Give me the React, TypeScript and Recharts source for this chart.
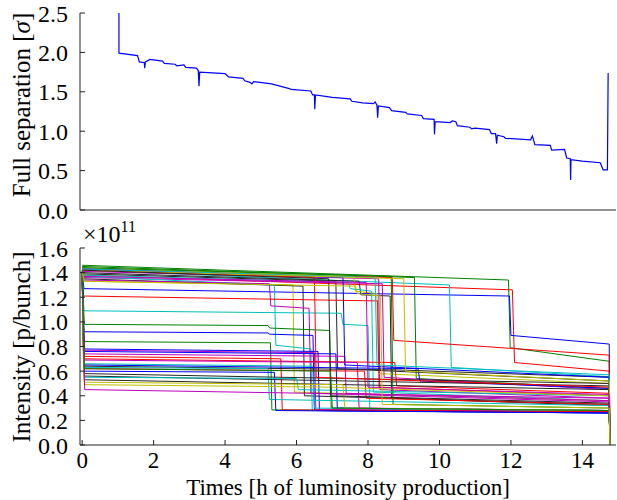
import { LineChart, Line, XAxis, YAxis, Label } from "recharts";

const FONT = '"Liberation Serif", "Times New Roman", serif';
const INK = "#222";

const B = "#0000ff";
const G = "#008000";
const R = "#ff0000";
const C = "#00bfbf";
const M = "#bf00bf";
const Y = "#bfbf00";
const K = "#262626";

const timeTicks = [0, 2, 4, 6, 8, 10, 12, 14];
const sepTicks = [0, 0.5, 1, 1.5, 2, 2.5];
const intensityTicks = [0, 0.2, 0.4, 0.6, 0.8, 1.0, 1.2, 1.4, 1.6];
const timeDomain: [number, number] = [-0.06, 14.94];

// full separation [sigma] vs time [h]
const separation: [number, number][] = [
  [1.03, 2.6], [1.03, 1.99], [1.55, 1.96], [1.6, 1.88], [1.74, 1.87], [1.75, 1.8],
  [1.77, 1.88], [1.9, 1.91], [2.25, 1.89], [2.3, 1.86], [2.6, 1.85], [2.65, 1.83],
  [2.85, 1.84], [2.9, 1.81], [3.2, 1.8], [3.25, 1.77], [3.27, 1.57], [3.29, 1.75],
  [4.0, 1.73], [4.1, 1.69], [4.5, 1.67], [4.55, 1.64], [4.7, 1.62], [4.75, 1.6],
  [4.8, 1.63], [5.3, 1.6], [5.8, 1.54], [5.85, 1.53], [6.4, 1.51], [6.45, 1.46],
  [6.5, 1.46], [6.51, 1.28], [6.53, 1.46], [7.0, 1.43], [7.5, 1.41], [7.55, 1.38],
  [7.85, 1.36], [8.15, 1.35], [8.2, 1.37], [8.25, 1.33], [8.27, 1.17], [8.29, 1.32],
  [8.6, 1.3], [8.66, 1.26], [9.05, 1.24], [9.1, 1.22], [9.5, 1.2], [9.55, 1.16],
  [9.85, 1.15], [9.86, 0.96], [9.88, 1.12], [10.3, 1.11], [10.36, 1.13], [10.46, 1.12],
  [10.5, 1.07], [10.85, 1.05], [10.9, 1.03], [11.0, 1.04], [11.4, 1.02], [11.45, 0.97],
  [11.57, 0.97], [11.6, 0.84], [11.62, 0.95], [11.8, 0.93], [11.85, 0.91], [12.55, 0.89],
  [12.6, 0.94], [12.67, 0.83], [13.1, 0.82], [13.14, 0.76], [13.5, 0.77], [13.56, 0.66],
  [13.66, 0.65], [13.67, 0.38], [13.68, 0.64], [14.0, 0.62], [14.5, 0.6], [14.58, 0.51],
  [14.7, 0.51], [14.72, 1.74],
];

// beams dumped at the end of the fill
const dumpTime = 14.77;

const bunchColors = [
  G, R, B, C, G, R, K, M, Y, K,
  C, M, Y, K, C, M, R, C, G, B,
  G, B, M, B, M, R, R, M, C, B,
  K, C, B, R, K, K, C, K, Y, Y,
  M, G, B, R, C, Y, K, M, G, Y,
];

// intensity [1e11 p/bunch] breakpoints (t [h], value)
const bunchTracks: [number, number][][] = [
  [[0, 1.46], [11.93, 1.34], [11.98, 0.79], [14.75, 0.68]],
  [[0, 1.38], [12.04, 1.26], [12.1, 0.67], [14.75, 0.6]],
  [[0, 1.41], [0.05, 1.27], [6, 1.24], [11.96, 1.21], [12.0, 0.89], [14.75, 0.82]],
  [[0, 1.42], [10.28, 1.3], [10.33, 0.63], [14.75, 0.555]],
  [[0, 1.45], [9.3, 1.36], [9.35, 0.54], [14.75, 0.46]],
  [[0, 1.43], [8.68, 1.36], [8.72, 0.85], [14.75, 0.73]],
  [[0, 1.4], [7.75, 1.33], [7.8, 1.22], [8.62, 1.21], [8.66, 0.38], [14.75, 0.32]],
  [[0, 1.41], [8.3, 1.35], [8.33, 0.45], [14.75, 0.38]],
  [[0, 1.44], [7.6, 1.37], [7.65, 1.25], [8.25, 1.23], [8.3, 0.58], [14.75, 0.5]],
  [[0, 1.39], [7.1, 1.33], [7.15, 0.62], [14.75, 0.52]],
  [[0, 1.38], [7.45, 1.32], [7.5, 1.27], [8.1, 1.25], [8.15, 0.43], [14.75, 0.36]],
  [[0, 1.36], [8.4, 1.31], [8.45, 0.55], [14.75, 0.45]],
  [[0, 1.33], [5.9, 1.3], [5.94, 0.43], [14.75, 0.36]],
  [[0, 1.35], [6.18, 1.29], [6.22, 0.4], [14.75, 0.33]],
  [[0, 1.37], [5.38, 1.3], [5.42, 0.81], [6.4, 0.78], [6.44, 0.28], [14.75, 0.26]],
  [[0, 1.34], [5.24, 1.31], [5.28, 1.13], [6.35, 1.11], [6.4, 0.42], [14.75, 0.35]],
  [[0, 1.38], [0.04, 1.21], [8.27, 1.17], [8.31, 0.47], [14.75, 0.4]],
  [[0, 1.4], [0.05, 1.09], [7.25, 1.07], [7.3, 0.98], [8.0, 0.97], [8.05, 0.29], [14.75, 0.27]],
  [[0, 1.42], [0.06, 0.98], [5.2, 0.97], [5.25, 0.95], [6.93, 0.93], [6.97, 0.3], [14.75, 0.28]],
  [[0, 1.4], [0.05, 0.92], [5.2, 0.91], [5.25, 0.9], [6.46, 0.89], [6.5, 0.28], [14.75, 0.26]],
  [[0, 1.41], [0.06, 0.84], [5.27, 0.83], [5.31, 0.285], [14.75, 0.27]],
  [[0, 1.4], [0.05, 0.78], [6.6, 0.76], [6.64, 0.28], [14.75, 0.26]],
  [[0, 1.4], [0.06, 0.77], [6.5, 0.75], [6.54, 0.29], [14.75, 0.27]],
  [[0, 1.39], [0.05, 0.76], [7.1, 0.74], [7.14, 0.3], [14.75, 0.28]],
  [[0, 1.39], [0.06, 0.74], [7.35, 0.72], [7.39, 0.42], [14.75, 0.36]],
  [[0, 1.38], [0.04, 0.72], [5.56, 0.7], [5.6, 0.285], [14.75, 0.27]],
  [[0, 1.38], [0.04, 0.7], [8.75, 0.67], [8.8, 0.48], [14.75, 0.42]],
  [[0, 1.39], [0.06, 0.69], [7.7, 0.67], [7.75, 0.3], [14.75, 0.28]],
  [[0, 1.4], [0.05, 0.66], [6.45, 0.64], [6.5, 0.3], [14.75, 0.28]],
  [[0, 1.39], [0.05, 0.65], [9.4, 0.62], [9.45, 0.52], [14.75, 0.46]],
  [[0, 1.38], [0.06, 0.64], [8.8, 0.61], [14.75, 0.55]],
  [[0, 1.4], [0.05, 0.63], [5.2, 0.62], [5.24, 0.37], [14.75, 0.32]],
  [[0, 1.39], [0.05, 0.6], [5.38, 0.59], [5.42, 0.28], [14.75, 0.26]],
  [[0, 1.4], [0.04, 0.62], [7.9, 0.6], [7.95, 0.38], [14.75, 0.33]],
  [[0, 1.39], [0.06, 0.58], [14.75, 0.5]],
  [[0, 1.4], [0.06, 0.56], [14.75, 0.48]],
  [[0, 1.38], [0.06, 0.55], [6.0, 0.54], [6.05, 0.45], [14.75, 0.4]],
  [[0, 1.4], [0.06, 0.53], [14.75, 0.45]],
  [[0, 1.38], [0.06, 0.51], [7.3, 0.49], [7.35, 0.3], [14.75, 0.28]],
  [[0, 1.39], [0.06, 0.49], [6.9, 0.47], [14.75, 0.4]],
  [[0, 1.38], [0.07, 0.45], [14.75, 0.38]],
  [[0, 1.44], [8.65, 1.37], [8.7, 0.33], [14.75, 0.3]],
  [[0, 1.43], [7.3, 1.36], [7.35, 0.65], [14.75, 0.55]],
  [[0, 1.42], [6.5, 1.36], [6.55, 0.55], [14.75, 0.47]],
  [[0, 1.43], [8.2, 1.36], [8.25, 0.65], [14.75, 0.57]],
  [[0, 1.42], [9.0, 1.35], [9.05, 0.6], [14.75, 0.52]],
  [[0, 1.42], [6.9, 1.35], [6.95, 0.4], [14.75, 0.34]],
  [[0, 1.37], [7.95, 1.32], [8.0, 0.47], [14.75, 0.41]],
  [[0, 1.39], [0.06, 0.62], [6.95, 0.6], [7.0, 0.3], [14.75, 0.28]],
  [[0, 1.4], [0.06, 1.33], [7.65, 1.29], [7.7, 1.23], [8.35, 1.21], [8.4, 0.33], [14.75, 0.3]],
];

const sepData = separation.map(([t, v]) => ({ t, v }));
const bunchData = bunchTracks.map((track) =>
  [...track, [dumpTime, 0] as [number, number]].map(([t, v]) => ({ t, v }))
);

const yTickStyle = { fontSize: 24, fontFamily: FONT, fill: "#000" };
const xTickStyle = { fontSize: 23, fontFamily: FONT, fill: "#000" };
const frame = { stroke: INK, strokeWidth: 1 };

const textStyle: React.CSSProperties = {
  position: "absolute",
  fontFamily: FONT,
  fontSize: 25,
  lineHeight: 1,
  whiteSpace: "nowrap",
  color: "#000",
};

const App = () => {
  return (
    <div style={{ position: "absolute", left: 0, top: 0, width: 617, height: 500, background: "#fff" }}>
      <div style={{ position: "absolute", left: 0, top: 0 }}>
        <LineChart width={617} height={232} margin={{ top: 13, right: 1, bottom: 0, left: 10 }}>
          <XAxis
            xAxisId="b"
            dataKey="t"
            type="number"
            domain={timeDomain}
            ticks={timeTicks}
            allowDataOverflow
            height={22}
            tick={false}
            tickSize={-5}
            axisLine={frame}
            tickLine={frame}
          />
          <XAxis
            xAxisId="top"
            orientation="top"
            type="number"
            domain={timeDomain}
            ticks={timeTicks}
            allowDataOverflow
            height={0}
            tick={false}
            tickSize={-5}
            axisLine={frame}
            tickLine={frame}
          />
          <YAxis
            yAxisId="l"
            type="number"
            domain={[0, 2.5]}
            ticks={sepTicks}
            allowDataOverflow
            width={70}
            interval={0}
            tickSize={-5}
            tickMargin={17}
            tickFormatter={(v: number) => v.toFixed(1)}
            tick={yTickStyle}
            axisLine={frame}
            tickLine={frame}
          />
          <YAxis
            yAxisId="r"
            orientation="right"
            type="number"
            domain={[0, 2.5]}
            ticks={sepTicks}
            allowDataOverflow
            width={0}
            tick={false}
            tickSize={-5}
            axisLine={frame}
            tickLine={frame}
          />
          <Line
            xAxisId="b"
            yAxisId="l"
            data={sepData}
            dataKey="v"
            type="linear"
            stroke={B}
            strokeWidth={1.2}
            dot={false}
            isAnimationActive={false}
          />
        </LineChart>
      </div>

      <div style={{ position: "absolute", left: 0, top: 230 }}>
        <LineChart width={617} height={270} margin={{ top: 18, right: 1, bottom: 0, left: 10 }}>
          <XAxis
            xAxisId="b"
            dataKey="t"
            type="number"
            domain={timeDomain}
            ticks={timeTicks}
            allowDataOverflow
            height={55}
            interval={0}
            tickSize={-5}
            tickMargin={12}
            tick={xTickStyle}
            axisLine={frame}
            tickLine={frame}
          >
            <Label
              value="Times [h of luminosity production]"
              position="insideBottom"
              offset={5}
              style={{ fontSize: 23, fontFamily: FONT, fill: "#000" }}
            />
          </XAxis>
          <XAxis
            xAxisId="top"
            orientation="top"
            type="number"
            domain={timeDomain}
            ticks={timeTicks}
            allowDataOverflow
            height={0}
            tick={false}
            tickSize={-5}
            axisLine={frame}
            tickLine={frame}
          />
          <YAxis
            yAxisId="l"
            type="number"
            domain={[0, 1.6]}
            ticks={intensityTicks}
            allowDataOverflow
            width={70}
            interval={0}
            tickSize={-5}
            tickMargin={17}
            tickFormatter={(v: number) => v.toFixed(1)}
            tick={yTickStyle}
            axisLine={frame}
            tickLine={frame}
          />
          <YAxis
            yAxisId="r"
            orientation="right"
            type="number"
            domain={[0, 1.6]}
            ticks={intensityTicks}
            allowDataOverflow
            width={0}
            tick={false}
            tickSize={-5}
            axisLine={frame}
            tickLine={frame}
          />
          {bunchData.map((d, i) => (
            <Line
              key={i}
              xAxisId="b"
              yAxisId="l"
              data={d}
              dataKey="v"
              type="linear"
              stroke={bunchColors[i]}
              strokeWidth={1}
              dot={false}
              isAnimationActive={false}
            />
          ))}
        </LineChart>
      </div>

      <div style={{ ...textStyle, left: 21, top: 105, transform: "translate(-50%, -50%) rotate(-90deg)" }}>
        Full separation [<i>σ</i>]
      </div>
      <div style={{ ...textStyle, left: 21, top: 347, transform: "translate(-50%, -50%) rotate(-90deg)" }}>
        Intensity [p/bunch]
      </div>
      <div style={{ ...textStyle, fontSize: 24, left: 83, top: 222 }}>
        ×10<span style={{ fontSize: 16, position: "relative", top: -10 }}>11</span>
      </div>
    </div>
  );
};

export default App;
